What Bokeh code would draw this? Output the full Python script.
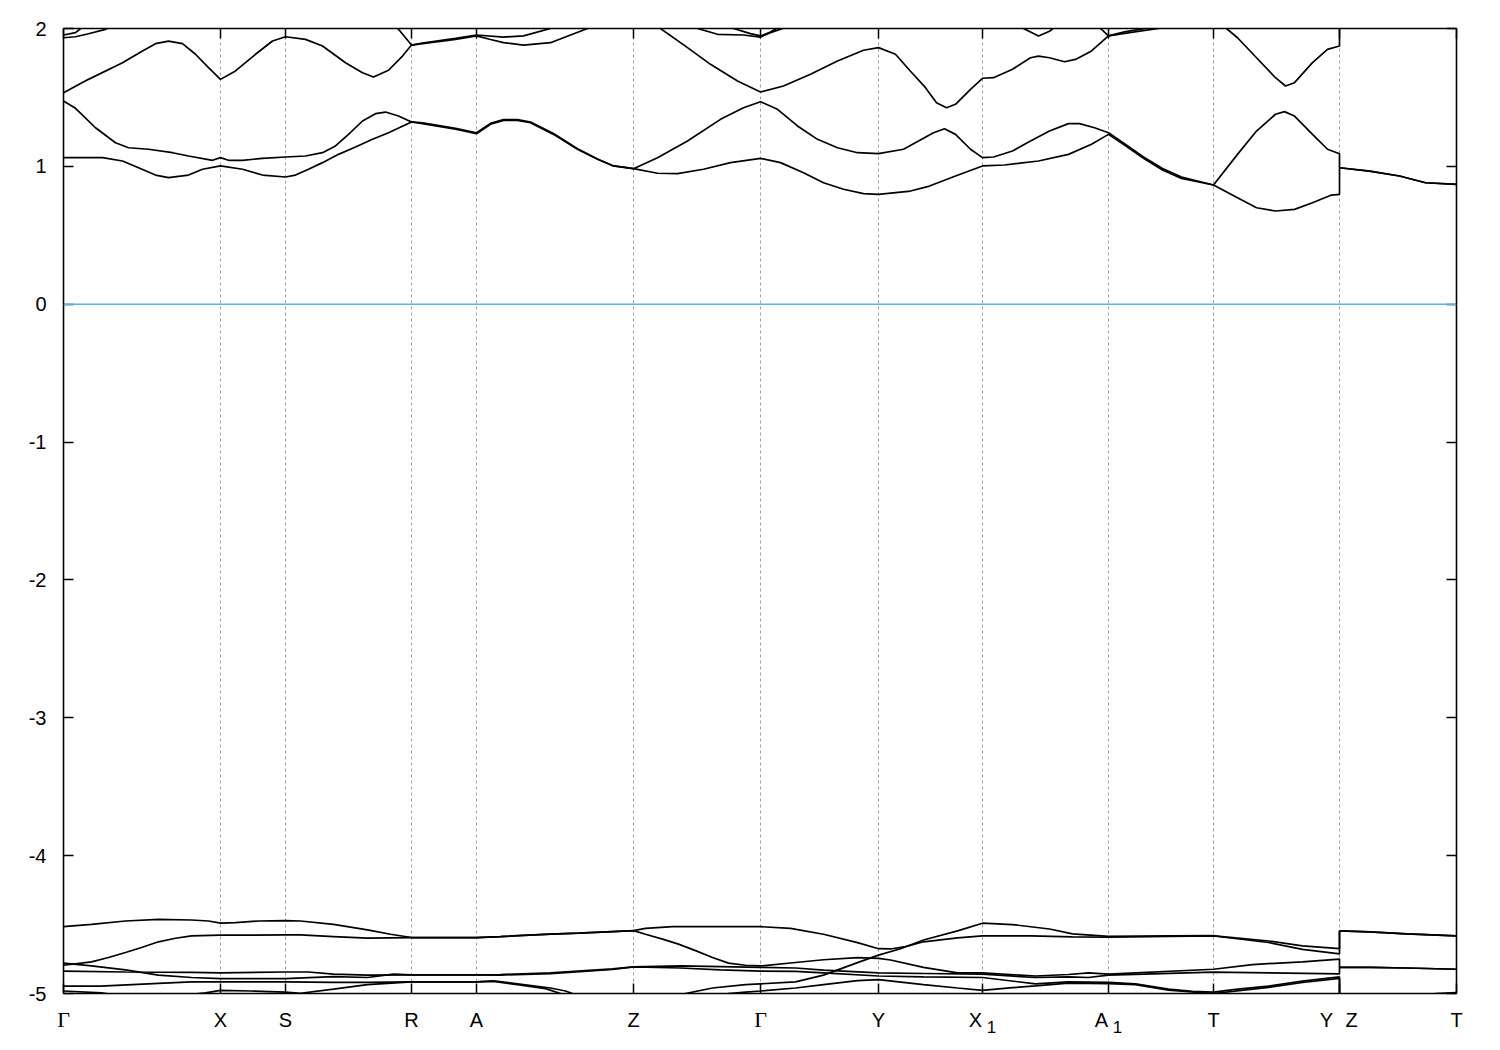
from bokeh.plotting import figure
from bokeh.layouts import column
from bokeh.models import FixedTicker, LinearAxis, Range1d, Span
from bokeh.core.properties import value
from bokeh.embed import file_html
from bokeh.resources import INLINE

# ---------------- data ----------------
kpoint_pos = [0.000, 0.157, 0.222, 0.348, 0.413, 0.570, 0.697, 0.815, 0.919, 1.045, 1.150, 1.276, 1.393]
kpoint_names = ["Γ", "X", "S", "R", "A", "Z", "Γ", "Y", "X_1", "A_1", "T", "Y|Z", "T"]
energy_ticks = [-5, -4, -3, -2, -1, 0, 1, 2]
fermi_level = 0.0

# conduction bands (k, E in eV)
cb1 = [(0.000, 1.063), (0.039, 1.063), (0.059, 1.039), (0.075, 0.990), (0.092, 0.937), (0.105, 0.918),
       (0.125, 0.937), (0.139, 0.979), (0.157, 1.003), (0.179, 0.979), (0.199, 0.937), (0.222, 0.923),
       (0.232, 0.937), (0.245, 0.979), (0.259, 1.027), (0.275, 1.087), (0.292, 1.140), (0.309, 1.196),
       (0.325, 1.244), (0.348, 1.322), (0.359, 1.309), (0.392, 1.269), (0.413, 1.237), (0.427, 1.305),
       (0.440, 1.334), (0.454, 1.334), (0.467, 1.317), (0.490, 1.232), (0.514, 1.124), (0.534, 1.051),
       (0.550, 1.003), (0.570, 0.983), (0.594, 0.950), (0.614, 0.947), (0.640, 0.979), (0.667, 1.027),
       (0.697, 1.058), (0.717, 1.027), (0.740, 0.954), (0.760, 0.881), (0.780, 0.834), (0.800, 0.802),
       (0.815, 0.797), (0.847, 0.821), (0.866, 0.857), (0.892, 0.930), (0.919, 1.003), (0.941, 1.010),
       (0.975, 1.039), (1.005, 1.087), (1.028, 1.160), (1.045, 1.232), (1.061, 1.155), (1.080, 1.058),
       (1.099, 0.974), (1.118, 0.913), (1.150, 0.865), (1.174, 0.772), (1.193, 0.700), (1.212, 0.676),
       (1.231, 0.688), (1.249, 0.736), (1.268, 0.792), (1.276, 0.797), (1.276, 0.990), (1.306, 0.966),
       (1.336, 0.930), (1.362, 0.881), (1.393, 0.870)]
cb2 = [(0.000, 1.474), (0.012, 1.421), (0.032, 1.280), (0.052, 1.171), (0.065, 1.135), (0.085, 1.124),
       (0.109, 1.099), (0.125, 1.075), (0.149, 1.044), (0.157, 1.063), (0.165, 1.044), (0.179, 1.044),
       (0.199, 1.058), (0.222, 1.068), (0.242, 1.075), (0.259, 1.099), (0.272, 1.148), (0.285, 1.232),
       (0.299, 1.329), (0.312, 1.382), (0.322, 1.394), (0.335, 1.365), (0.348, 1.322), (0.359, 1.315),
       (0.392, 1.275), (0.413, 1.244), (0.427, 1.312), (0.440, 1.340), (0.454, 1.340), (0.467, 1.322),
       (0.490, 1.238), (0.514, 1.128), (0.534, 1.053), (0.550, 1.003), (0.570, 0.983), (0.594, 1.063),
       (0.624, 1.184), (0.657, 1.341), (0.680, 1.425), (0.697, 1.469), (0.714, 1.414), (0.734, 1.293),
       (0.754, 1.196), (0.774, 1.135), (0.794, 1.099), (0.815, 1.092), (0.840, 1.124), (0.855, 1.184),
       (0.870, 1.244), (0.881, 1.273), (0.892, 1.232), (0.907, 1.124), (0.919, 1.063), (0.930, 1.068),
       (0.949, 1.111), (0.967, 1.184), (0.986, 1.256), (1.005, 1.310), (1.016, 1.310), (1.031, 1.280),
       (1.045, 1.244), (1.061, 1.165), (1.080, 1.068), (1.099, 0.984), (1.118, 0.923), (1.150, 0.865),
       (1.174, 1.087), (1.193, 1.256), (1.212, 1.378), (1.221, 1.397), (1.231, 1.365), (1.249, 1.232),
       (1.264, 1.124), (1.276, 1.092), (1.276, 0.990), (1.306, 0.966), (1.336, 0.930), (1.362, 0.881),
       (1.393, 0.870)]
cb3 = [(0.000, 1.534), (0.025, 1.631), (0.059, 1.752), (0.079, 1.837), (0.092, 1.890), (0.105, 1.909),
       (0.119, 1.890), (0.132, 1.813), (0.145, 1.716), (0.157, 1.631), (0.172, 1.692), (0.192, 1.813),
       (0.209, 1.909), (0.222, 1.940), (0.242, 1.921), (0.259, 1.873), (0.282, 1.752), (0.299, 1.679),
       (0.310, 1.648), (0.325, 1.697), (0.339, 1.800), (0.348, 1.880), (0.359, 1.890), (0.392, 1.921),
       (0.413, 1.946), (0.427, 1.920), (0.440, 1.897), (0.460, 1.880), (0.487, 1.897), (0.524, 2.000),
       (0.545, 2.080)]
cb4 = [(0.580, 2.120), (0.597, 2.000), (0.624, 1.861), (0.647, 1.740), (0.674, 1.619), (0.697, 1.539),
       (0.720, 1.583), (0.747, 1.668), (0.774, 1.764), (0.800, 1.842), (0.815, 1.861), (0.832, 1.813),
       (0.847, 1.690), (0.862, 1.571), (0.873, 1.462), (0.883, 1.425), (0.892, 1.450), (0.907, 1.559),
       (0.919, 1.639), (0.930, 1.643), (0.949, 1.704), (0.967, 1.788), (0.975, 1.800), (0.986, 1.788),
       (1.001, 1.759), (1.012, 1.776), (1.028, 1.837), (1.045, 1.946), (1.061, 1.975), (1.082, 2.000),
       (1.100, 2.080)]
cb5 = [(1.140, 2.100), (1.163, 2.000), (1.174, 1.933), (1.193, 1.788), (1.212, 1.643), (1.222, 1.583),
       (1.231, 1.607), (1.249, 1.752), (1.264, 1.849), (1.276, 1.873), (1.276, 2.200)]
cb6 = [(0.000, 1.953), (0.012, 1.970), (0.019, 2.010), (0.030, 2.080)]
cb7 = [(0.000, 1.933), (0.012, 1.940), (0.025, 1.962), (0.042, 1.994), (0.055, 2.040)]
cb8 = [(0.320, 2.080), (0.335, 1.994), (0.348, 1.880), (0.359, 1.895), (0.392, 1.928), (0.413, 1.953),
       (0.440, 1.938), (0.460, 1.946), (0.487, 2.000), (0.505, 2.060)]
cb9 = [(0.625, 2.080), (0.634, 2.000), (0.654, 1.958), (0.680, 1.953), (0.697, 1.938), (0.707, 1.970),
       (0.727, 2.020), (0.740, 2.080)]
cb10 = [(0.660, 2.060), (0.670, 2.000), (0.687, 1.963), (0.697, 1.946), (0.707, 1.975), (0.720, 2.030)]
cb11 = [(0.950, 2.050), (0.960, 2.000), (0.975, 1.946), (0.986, 1.980), (0.997, 2.040)]
cb12 = [(1.030, 2.050), (1.037, 2.000), (1.045, 1.946), (1.061, 1.965), (1.095, 2.000), (1.110, 2.030)]

# valence bands (k, E in eV)
vb1 = [(0.000, -4.515), (0.028, -4.498), (0.062, -4.474), (0.095, -4.462), (0.128, -4.467), (0.145, -4.474),
       (0.157, -4.490), (0.172, -4.486), (0.195, -4.474), (0.222, -4.471), (0.237, -4.474), (0.270, -4.498),
       (0.304, -4.539), (0.327, -4.570), (0.348, -4.594), (0.413, -4.594), (0.437, -4.587), (0.487, -4.570),
       (0.515, -4.562), (0.549, -4.551), (0.570, -4.544), (0.582, -4.528), (0.609, -4.515), (0.649, -4.515),
       (0.697, -4.515), (0.727, -4.528), (0.760, -4.570), (0.794, -4.631), (0.815, -4.675), (0.827, -4.677),
       (0.842, -4.660), (0.860, -4.625), (0.894, -4.597), (0.919, -4.582), (0.967, -4.582), (1.009, -4.589),
       (1.045, -4.592), (1.105, -4.585), (1.150, -4.582), (1.172, -4.597), (1.205, -4.619), (1.239, -4.655),
       (1.276, -4.675), (1.276, -4.546), (1.306, -4.553), (1.343, -4.568), (1.393, -4.582)]
vb2 = [(0.000, -4.795), (0.028, -4.771), (0.045, -4.739), (0.062, -4.703), (0.078, -4.666), (0.095, -4.625),
       (0.112, -4.599), (0.128, -4.582), (0.157, -4.577), (0.222, -4.575), (0.237, -4.575), (0.270, -4.587),
       (0.304, -4.599), (0.348, -4.594), (0.413, -4.594), (0.437, -4.587), (0.487, -4.570), (0.515, -4.562),
       (0.549, -4.551), (0.570, -4.544), (0.582, -4.570), (0.599, -4.606), (0.615, -4.642), (0.632, -4.689),
       (0.649, -4.739), (0.665, -4.780), (0.682, -4.795), (0.697, -4.800), (0.732, -4.775), (0.760, -4.755),
       (0.794, -4.740), (0.815, -4.745), (0.827, -4.757), (0.860, -4.810), (0.894, -4.850), (0.919, -4.851),
       (0.972, -4.873), (1.005, -4.862), (1.025, -4.850), (1.045, -4.860), (1.150, -4.824), (1.189, -4.790),
       (1.239, -4.770), (1.276, -4.750), (1.276, -4.810), (1.307, -4.810), (1.343, -4.815), (1.393, -4.824)]
vb3 = [(0.000, -4.780), (0.028, -4.800), (0.062, -4.829), (0.095, -4.867), (0.128, -4.884), (0.157, -4.892),
       (0.222, -4.892), (0.270, -4.877), (0.304, -4.884), (0.330, -4.860), (0.348, -4.865), (0.413, -4.865),
       (0.437, -4.862), (0.487, -4.851), (0.549, -4.822), (0.570, -4.807), (0.617, -4.800), (0.657, -4.805),
       (0.697, -4.811), (0.732, -4.815), (0.760, -4.830), (0.815, -4.851), (0.860, -4.855), (0.919, -4.860),
       (0.972, -4.884), (1.005, -4.880), (1.025, -4.884), (1.045, -4.867), (1.150, -4.845), (1.205, -4.850),
       (1.276, -4.857), (1.276, -4.810), (1.307, -4.810), (1.343, -4.815), (1.393, -4.824)]
vb4 = [(0.000, -4.837), (0.062, -4.844), (0.128, -4.847), (0.157, -4.851), (0.222, -4.844), (0.245, -4.844),
       (0.270, -4.860), (0.304, -4.867), (0.348, -4.865), (0.413, -4.865), (0.437, -4.866), (0.487, -4.856),
       (0.549, -4.826), (0.570, -4.807), (0.617, -4.815), (0.657, -4.828), (0.697, -4.837), (0.732, -4.840),
       (0.760, -4.850), (0.815, -4.873), (0.860, -4.880), (0.919, -4.884), (0.972, -4.930), (1.005, -4.916),
       (1.045, -4.920), (1.072, -4.930), (1.105, -4.968), (1.129, -4.985), (1.150, -4.990), (1.172, -4.970),
       (1.205, -4.946), (1.239, -4.910), (1.276, -4.880), (1.276, -5.150)]
vb5 = [(0.000, -4.946), (0.037, -4.946), (0.095, -4.926), (0.128, -4.916), (0.157, -4.916), (0.222, -4.916),
       (0.270, -4.920), (0.304, -4.920), (0.348, -4.916), (0.413, -4.916), (0.430, -4.909), (0.454, -4.930),
       (0.487, -4.960), (0.502, -4.982), (0.509, -5.000), (0.537, -5.050), (0.570, -5.100), (0.597, -5.060),
       (0.622, -5.000), (0.649, -4.960), (0.682, -4.936), (0.697, -4.930), (0.732, -4.916), (0.760, -4.867),
       (0.794, -4.776), (0.815, -4.722), (0.837, -4.675), (0.860, -4.612), (0.894, -4.546), (0.919, -4.490),
       (0.949, -4.500), (0.986, -4.532), (1.009, -4.568), (1.045, -4.585), (1.105, -4.582), (1.150, -4.580),
       (1.159, -4.590), (1.205, -4.630), (1.239, -4.680), (1.276, -4.713), (1.276, -4.546), (1.306, -4.553),
       (1.343, -4.568), (1.393, -4.582)]
vb6 = [(0.000, -4.982), (0.038, -4.995), (0.067, -5.030), (0.112, -5.020), (0.142, -4.995), (0.157, -4.977),
       (0.187, -4.982), (0.222, -4.990), (0.237, -4.998), (0.270, -4.968), (0.304, -4.935), (0.348, -4.916),
       (0.413, -4.916), (0.430, -4.912), (0.454, -4.935), (0.482, -4.965), (0.497, -5.000), (0.537, -5.060),
       (0.570, -5.100), (0.637, -5.050), (0.665, -5.000), (0.682, -4.990), (0.697, -4.982), (0.732, -4.960),
       (0.760, -4.935), (0.794, -4.906), (0.815, -4.900), (0.860, -4.935), (0.894, -4.960), (0.919, -4.977),
       (0.949, -4.958), (0.972, -4.945), (1.005, -4.925), (1.045, -4.928), (1.072, -4.935), (1.105, -4.975),
       (1.150, -5.000), (1.205, -4.955), (1.239, -4.920), (1.276, -4.890), (1.276, -5.150)]
vb7 = [(1.276, -5.200), (1.337, -5.080), (1.372, -5.000), (1.393, -4.993)]

bands = [cb1, cb2, cb3, cb4, cb5, cb6, cb7, cb8, cb9, cb10, cb11, cb12,
         vb1, vb2, vb3, vb4, vb5, vb6, vb7]

# ---------------- main figure ----------------
FW, FH = 1393, 965
BL, BR, BT, BB = 63, 44, 28, 15
STRIP_H = 42
p = figure(frame_width=FW, frame_height=FH,
           x_range=Range1d(kpoint_pos[0], kpoint_pos[-1]),
           y_range=Range1d(energy_ticks[0], energy_ticks[-1]),
           output_backend="svg", toolbar_location=None,
           min_border_left=BL, min_border_right=BR, min_border_top=BT, min_border_bottom=BB)
p.frame_align = False
p.background_fill_color = "white"
p.border_fill_color = "white"
p.outline_line_color = "black"
p.outline_line_width = 1.6
p.outline_line_alpha = 1.0

p.xgrid.ticker = FixedTicker(ticks=kpoint_pos[1:-1])
p.xgrid.grid_line_color = "#a0a0a0"
p.xgrid.grid_line_dash = "3 3"
p.xgrid.grid_line_width = 1
p.ygrid.visible = False

def style_axis(ax, ticks, show_labels):
    ax.ticker = FixedTicker(ticks=ticks)
    ax.major_tick_in = 10
    ax.major_tick_out = 0
    ax.major_tick_line_color = "black"
    ax.major_tick_line_width = 1.5
    ax.minor_tick_line_color = None
    ax.axis_line_color = None
    if show_labels:
        ax.major_label_text_font = "Liberation Sans"
        ax.major_label_text_font_size = "20px"
        ax.major_label_text_color = "black"
        ax.major_label_standoff = 17
    else:
        ax.major_label_text_color = None
        ax.major_label_text_font_size = "1px"
        ax.major_label_standoff = 0

style_axis(p.yaxis[0], energy_ticks, True)
p.yaxis[0].major_label_overrides = {t: str(t) for t in energy_ticks}
style_axis(p.xaxis[0], kpoint_pos, False)

right_axis = LinearAxis()
style_axis(right_axis, energy_ticks, False)
p.add_layout(right_axis, "right")
top_axis = LinearAxis()
style_axis(top_axis, kpoint_pos, False)
p.add_layout(top_axis, "above")

p.add_layout(Span(location=fermi_level, dimension="width", line_color="#56b4e9", line_width=1.6))

for band in bands:
    ks = [pt[0] for pt in band]
    es = [pt[1] for pt in band]
    p.line(ks, es, line_color="black", line_width=1.7)

# ---------------- label strip under the frame (pixel-scaled x) ----------------
px = (kpoint_pos[-1] - kpoint_pos[0]) / FW          # k units per pixel
strip = figure(frame_width=BL + FW + BR, frame_height=STRIP_H,
               x_range=Range1d(kpoint_pos[0] - BL * px, kpoint_pos[-1] + BR * px),
               y_range=Range1d(-STRIP_H, 0),
               output_backend="svg", toolbar_location=None,
               x_axis_location=None, y_axis_location=None,
               min_border_left=0, min_border_right=0, min_border_top=0, min_border_bottom=0)
strip.frame_align = False
strip.outline_line_color = None
strip.grid.visible = False
strip.background_fill_color = "white"
strip.border_fill_color = "white"

base_y = -11
plain_x, plain_t = [], []
gamma_x, gamma_t = [], []
sub_x, sub_t = [], []
for k, name in zip(kpoint_pos, kpoint_names):
    if name == "Γ":
        gamma_x.append(k); gamma_t.append(name)
    elif "_" in name:
        base, sub = name.split("_")
        plain_x.append(k - 7 * px); plain_t.append(base)
        sub_x.append(k + 9 * px); sub_t.append(sub)
    elif "|" in name:
        left, right = name.split("|")
        plain_x.append(k - 13 * px); plain_t.append(left)
        plain_x.append(k + 12 * px); plain_t.append(right)
    else:
        plain_x.append(k); plain_t.append(name)

strip.text(x=plain_x, y=[base_y] * len(plain_x), text=plain_t,
           text_font=value("Liberation Sans"), text_font_size="20px", text_color="black",
           text_align="center", text_baseline="alphabetic")
strip.text(x=gamma_x, y=[base_y] * len(gamma_x), text=gamma_t,
           text_font=value("Liberation Serif"), text_font_size="22px", text_color="black",
           text_align="center", text_baseline="alphabetic")
strip.text(x=sub_x, y=[base_y - 7] * len(sub_x), text=sub_t,
           text_font=value("Liberation Sans"), text_font_size="17px", text_color="black",
           text_align="center", text_baseline="alphabetic")

layout = column(p, strip, spacing=0)
open("out.html", "w").write(file_html(layout, INLINE))
